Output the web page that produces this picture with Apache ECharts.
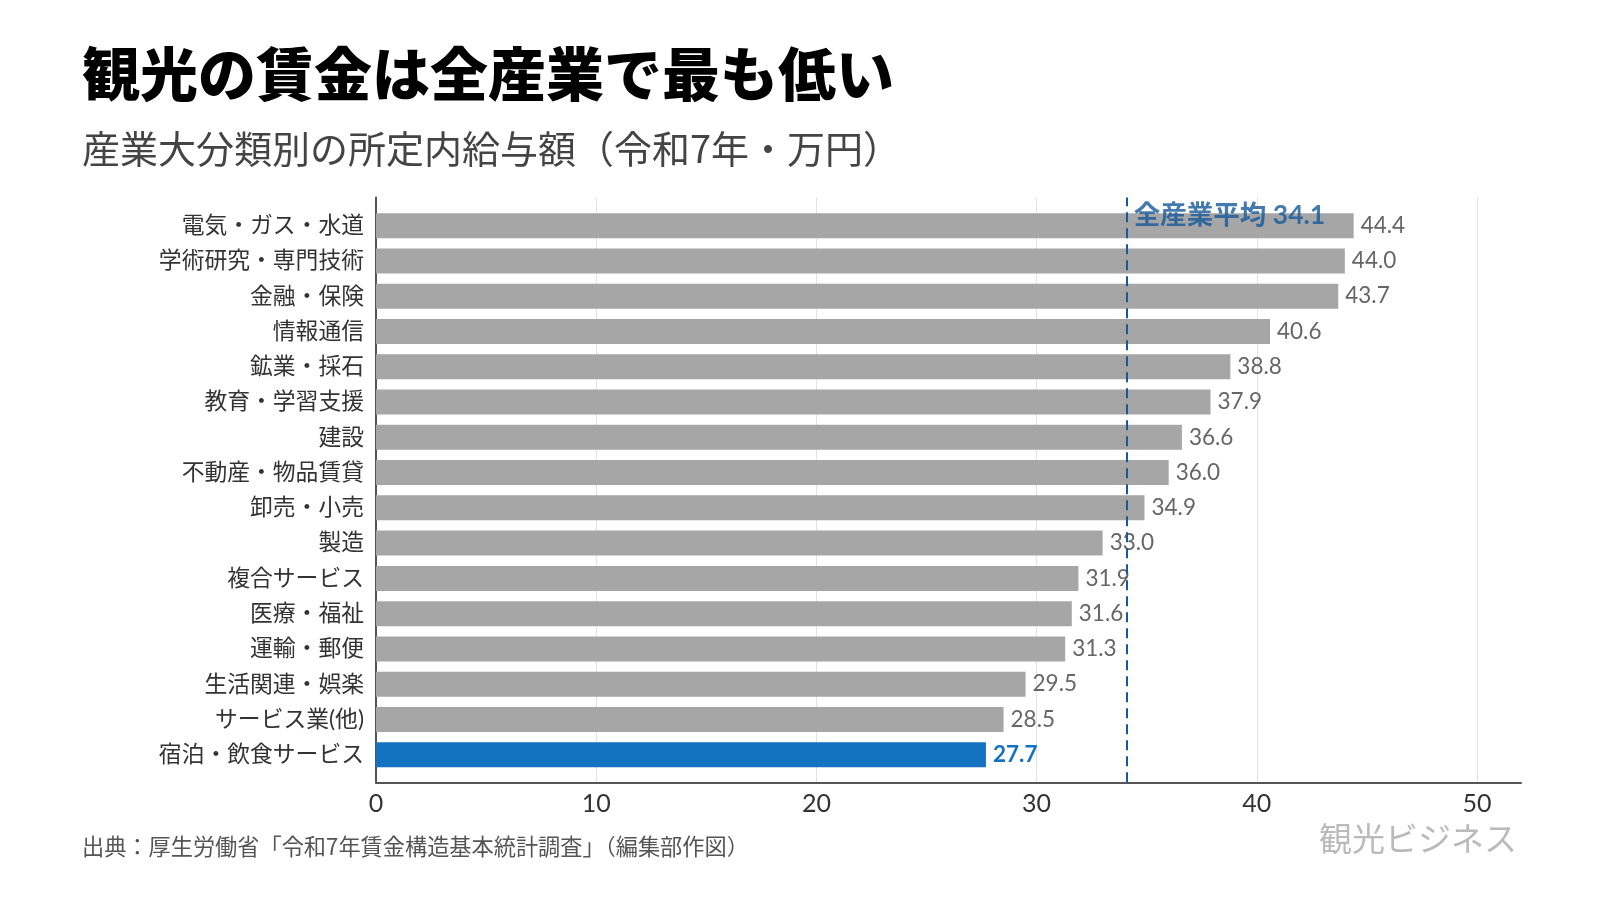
<!doctype html>
<html lang="ja">
<head>
<meta charset="utf-8">
<title>観光の賃金は全産業で最も低い</title>
<script src="https://cdn.jsdelivr.net/npm/echarts@6/dist/echarts.min.js"></script>
<style>
  html, body { margin: 0; padding: 0; background: #fff; }
  #main { width: 1600px; height: 900px; }
</style>
</head>
<body>
<div id="main"></div>
<script type="text/javascript">
// 産業別の所定内給与額（万円）
var categories = [
    '電気・ガス・水道', '学術研究・専門技術', '金融・保険', '情報通信',
    '鉱業・採石', '教育・学習支援', '建設', '不動産・物品賃貸',
    '卸売・小売', '製造', '複合サービス', '医療・福祉',
    '運輸・郵便', '生活関連・娯楽', 'サービス業(他)', '宿泊・飲食サービス'
];
var wages = [44.4, 44.0, 43.7, 40.6, 38.8, 37.9, 36.6, 36.0, 34.9, 33.0, 31.9, 31.6, 31.3, 29.5, 28.5, 27.7];
var highlight = '宿泊・飲食サービス';
var average = 34.1;
var averageLabel = '全産業平均 34.1';
var xTicks = [0, 10, 20, 30, 40, 50];

var FONT = "Lato, 'Noto Sans CJK JP', sans-serif";
var GREY = '#a6a6a6';
var BLUE = '#1472c2';
var NAVY = '#17599a';

var barData = wages.map(function (v, i) {
    if (categories[i] === highlight) {
        return {
            value: v,
            itemStyle: { color: BLUE },
            label: { color: BLUE, fontWeight: 'bold' }
        };
    }
    return v;
});

var myChart = echarts.init(document.getElementById('main'));

var option = {
    backgroundColor: '#fff',
    animation: false,
    title: [
        {
            text: '観光の賃金は全産業で最も低い',
            left: 82, top: 45, padding: 0,
            textStyle: { fontFamily: "'Noto Sans CJK JP'", fontSize: 58, fontWeight: 900, color: '#000' }
        },
        {
            text: '産業大分類別の所定内給与額（令和7年・万円）',
            left: 82, top: 129.5, padding: 0,
            textStyle: { fontFamily: "'Noto Sans CJK JP'", fontSize: 38, fontWeight: 400, color: '#444' }
        },
        {
            text: '出典：厚生労働省「令和7年賃金構造基本統計調査」（編集部作図）',
            left: 82, top: 835, padding: 0,
            textStyle: { fontFamily: "'Noto Sans CJK JP'", fontSize: 22.2, fontWeight: 400, color: '#555' }
        },
        {
            text: '観光ビジネス',
            right: 83, top: 822, padding: 0,
            textStyle: { fontFamily: "'Noto Sans CJK JP'", fontSize: 33, fontWeight: 400, color: '#bababa' }
        }
    ],
    grid: [
        // bars
        { left: 376, right: 79, top: 208, bottom: 127.6 },
        // frame: axis lines, gridlines, ticks, average line
        { left: 376, right: 79, top: 197.5, bottom: 117.7 }
    ],
    xAxis: [
        { gridIndex: 0, type: 'value', min: 0, max: 52, show: false },
        {
            gridIndex: 1, type: 'value', min: 0, max: 52, interval: 10,
            axisLine: { show: true, lineStyle: { color: '#555', width: 2 } },
            axisTick: { show: false },
            axisLabel: {
                margin: 9, fontFamily: FONT, fontSize: 25, color: '#333',
                showMaxLabel: false,
                formatter: function (v) { return xTicks.indexOf(v) >= 0 ? String(v) : ''; }
            },
            splitLine: { show: true, showMaxLine: false, lineStyle: { color: '#e2e2e2', width: 1 } }
        }
    ],
    yAxis: [
        {
            gridIndex: 0, type: 'category', data: categories, inverse: true,
            axisLine: { show: false },
            axisTick: { show: false },
            axisLabel: { margin: 12, fontFamily: FONT, fontSize: 22.8, color: '#333' }
        },
        {
            gridIndex: 1, type: 'value', min: 0, max: 1,
            axisLine: { show: true, lineStyle: { color: '#555', width: 2 } },
            axisTick: { show: false },
            axisLabel: { show: false },
            splitLine: { show: false }
        }
    ],
    series: [
        {
            type: 'bar',
            xAxisIndex: 0, yAxisIndex: 0,
            data: barData,
            barWidth: 25,
            itemStyle: { color: GREY },
            label: {
                show: true, position: 'right', distance: 7,
                fontFamily: FONT, fontSize: 22.5, color: '#666',
                formatter: function (p) { return p.value.toFixed(1); }
            }
        },
        {
            type: 'scatter',
            xAxisIndex: 1, yAxisIndex: 1,
            z: 5,
            symbolSize: 0,
            data: [[average, 0.969]],
            label: {
                show: true, position: 'right', distance: 7,
                formatter: averageLabel,
                fontFamily: FONT, fontSize: 26.5, fontWeight: 'bold', color: NAVY
            },
            markLine: {
                silent: true,
                symbol: 'none',
                label: { show: false },
                lineStyle: { type: [10, 6], color: NAVY, width: 2 },
                data: [{ xAxis: average }]
            }
        }
    ]
};

myChart.setOption(option);
</script>
</body>
</html>
